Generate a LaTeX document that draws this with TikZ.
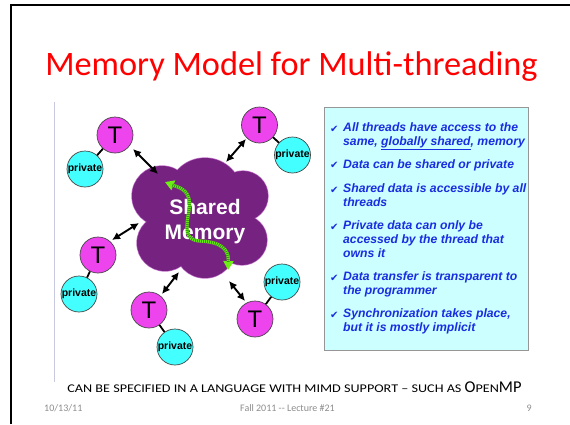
\documentclass[tikz,border=0pt]{standalone}
\usepackage{fontspec}
\setmainfont{Carlito}
\newfontfamily\arialf{Liberation Sans}
\newfontfamily\dejavu{DejaVu Sans}
\newfontfamily\widecal[FakeStretch=1.2]{Carlito}
\usetikzlibrary{arrows.meta}
\definecolor{titlered}{RGB}{255,0,0}
\definecolor{cloudpurple}{RGB}{118,34,128}
\definecolor{cloudedge}{RGB}{190,110,200}
\definecolor{threadmag}{RGB}{238,68,238}
\definecolor{privcyan}{RGB}{68,255,255}
\definecolor{circedge}{RGB}{70,70,70}
\definecolor{boxfill}{RGB}{204,255,255}
\definecolor{boxedge}{RGB}{150,150,150}
\definecolor{itemblue}{RGB}{25,45,225}
\definecolor{greenlight}{RGB}{110,240,20}
\definecolor{greendark}{RGB}{50,150,20}
\definecolor{footgray}{RGB}{140,140,140}
\definecolor{rulelav}{RGB}{200,200,225}
\tikzset{
  thread/.style={circle, fill=threadmag, draw=circedge, line width=0.7pt, minimum size=36pt, inner sep=0pt, font=\arialf\fontsize{24}{24}\selectfont},
  priv/.style={circle, fill=privcyan, draw=circedge, line width=0.7pt, minimum size=36pt, inner sep=0pt, font=\arialf\bfseries\fontsize{10.5}{11}\selectfont},
  tlink/.style={line width=1.8pt, black},
  dblarrow/.style={line width=1.9pt, black, {Latex[length=8pt,width=8pt]}-{Latex[length=8pt,width=8pt]}},
  itemtxt/.style={anchor=base west, inner sep=0pt, align=left, text=itemblue, font=\arialf\bfseries\itshape\fontsize{12.2}{13.6}\selectfont},
  checkmk/.style={anchor=base west, inner sep=0pt, text=itemblue, font=\dejavu\fontsize{10}{10}\selectfont},
  foot/.style={anchor=base, inner sep=0pt, text=footgray, font=\fontsize{10}{10}\selectfont},
  puffs/.style={insert path={(205,195) circle[radius=37] (243,196) circle[radius=25] (242,240) circle[radius=25] (205,248) circle[radius=30] (165,243) circle[radius=28] (162,196) circle[radius=30] (205,222) circle[radius=40]}}
}
\begin{document}
\begin{tikzpicture}[x=1pt,y=-1pt]
\useasboundingbox (0,0) rectangle (570,424);
% slide frame
\coordinate (fbl) at (11,424);
\coordinate (ftl) at (11,5);
\coordinate (ftr) at (570,5);
\draw[line width=1.6pt] (fbl) -- (ftl) -- (ftr);
% title
\node[anchor=base, inner sep=0pt, text=titlered, font=\fontsize{34.3}{36}\selectfont] (title) at (291.5,75) {Memory Model for Multi-threading};
% vertical rule
\coordinate (r1) at (54,102);
\coordinate (r2) at (54,382);
\draw[rulelav, line width=0.8pt] (r1) -- (r2);
% cloud (shared memory)
\coordinate (mem) at (205,220);
\draw[cloudedge, line width=1.3pt, puffs];
\fill[cloudpurple, puffs];
\node[inner sep=0pt, align=center, text=white, font=\arialf\bfseries\fontsize{21}{25}\selectfont] (memtxt) at (205,222) {Shared\\Memory};
% green arrow
\coordinate (gA) at (165,182);
\coordinate (gB) at (228,270);
\draw[greenlight, line width=3.2pt, {Triangle[length=9pt,width=10pt]}-{Triangle[length=9pt,width=10pt]}]
  (gA) .. controls (180,188) and (192,190) .. (189,210) .. controls (186,228) and (184,240) .. (200,241) .. controls (222,242) and (229,250) .. (gB);
\draw[greendark, line width=3.2pt, dash pattern=on 0.9pt off 1.1pt, shorten <=8pt, shorten >=8pt]
  (gA) .. controls (180,188) and (192,190) .. (189,210) .. controls (186,228) and (184,240) .. (200,241) .. controls (222,242) and (229,250) .. (gB);
% threads and private memories
\node[thread] (t1) at (115,135) {T};
\node[priv] (p1) at (85,169) {private};
\node[thread] (t2) at (259.5,125) {T};
\node[priv] (p2) at (292.5,155) {private};
\node[thread] (t3) at (98,255) {T};
\node[priv] (p3) at (79,294) {private};
\node[thread] (t4) at (149,310) {T};
\node[priv] (p4) at (175,347) {private};
\node[thread] (t5) at (255,319) {T};
\node[priv] (p5) at (282,282) {private};
\draw[tlink] (t1) -- (p1);
\draw[tlink] (t2) -- (p2);
\draw[tlink] (t3) -- (p3);
\draw[tlink] (t4) -- (p4);
\draw[tlink] (t5) -- (p5);
% arrows between threads and shared memory
\coordinate (a1s) at (133,149); \coordinate (a1e) at (158,174);
\coordinate (a2s) at (246,139); \coordinate (a2e) at (226,162);
\coordinate (a3s) at (139,223); \coordinate (a3e) at (112,240);
\coordinate (a4s) at (179,272); \coordinate (a4e) at (162,294);
\coordinate (a5s) at (229,281); \coordinate (a5e) at (245,301);
\draw[dblarrow] (a1s) -- (a1e);
\draw[dblarrow] (a2s) -- (a2e);
\draw[dblarrow] (a3s) -- (a3e);
\draw[dblarrow] (a4s) -- (a4e);
\draw[dblarrow] (a5s) -- (a5e);
% text box
\node[draw=boxedge, fill=boxfill, line width=0.9pt, minimum width=204pt, minimum height=243pt, inner sep=0pt, anchor=north west] (box) at (324,107) {};
\node[checkmk] (c1) at (330,132) {✔};
\node[itemtxt] (i1) at (343,145.5) {All threads have access to the\\same, \underline{globally shared}, memory};
\node[checkmk] (c2) at (330,168) {✔};
\node[itemtxt] (i2) at (343,168) {Data can be shared or private};
\node[checkmk] (c3) at (330,193) {✔};
\node[itemtxt] (i3) at (343,206.5) {Shared data is accessible by all\\threads};
\node[checkmk] (c4) at (330,230) {✔};
\node[itemtxt] (i4) at (343,257) {Private data can only be\\accessed by the thread that\\owns it};
\node[checkmk] (c5) at (330,281) {✔};
\node[itemtxt] (i5) at (343,294.5) {Data transfer is transparent to\\the programmer};
\node[checkmk] (c6) at (330,318) {✔};
\node[itemtxt] (i6) at (343,331.5) {Synchronization takes place,\\but it is mostly implicit};
% bottom statement
\node[anchor=base, inner sep=0pt, font=\widecal\fontsize{11.8}{12}\selectfont] (stmt) at (294.5,392) {CAN BE SPECIFIED IN A LANGUAGE WITH MIMD SUPPORT – SUCH AS {\normalfont\fontsize{16.5}{17}\selectfont O}PEN{\normalfont\fontsize{16.5}{17}\selectfont MP}};
% footer
\node[foot, anchor=base west] (date) at (44,411) {10/13/11};
\node[foot] (lect) at (287.5,411) {Fall 2011 -{}- Lecture \#21};
\node[foot, anchor=base east] (pg) at (532,411) {9};
\end{tikzpicture}
\end{document}
